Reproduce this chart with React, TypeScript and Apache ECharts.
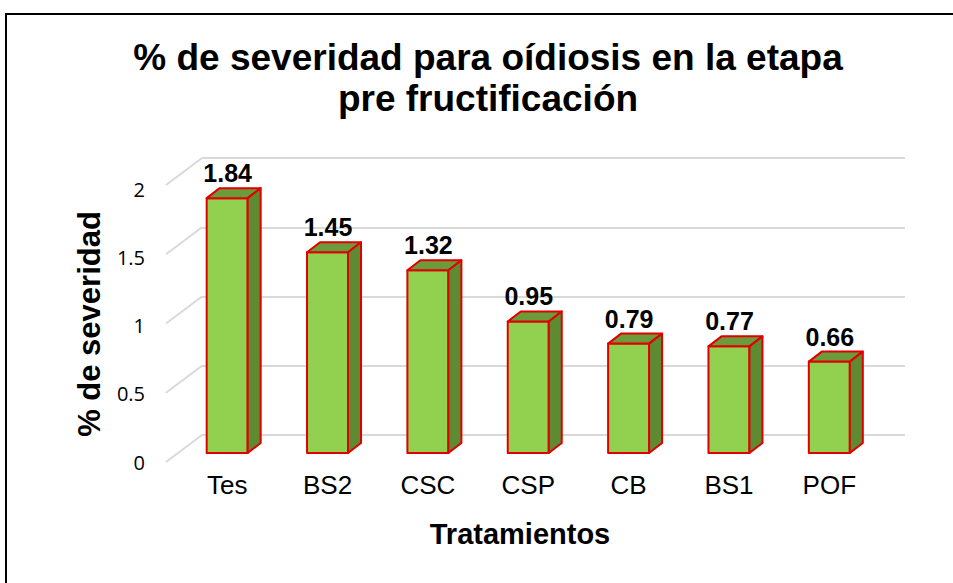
import React, { useEffect, useRef } from "react";
import * as echarts from "echarts";

const categories = ["Tes", "BS2", "CSC", "CSP", "CB", "BS1", "POF"];
const severity = [1.84, 1.45, 1.32, 0.95, 0.79, 0.77, 0.66];
const yTicks = [0, 0.5, 1, 1.5, 2];
const titleText = "% de severidad para oídiosis en la etapa\npre fructificación";
const yTitle = "% de severidad";
const xTitle = "Tratamientos";

export default function App() {
  const ref = useRef<HTMLDivElement>(null);
  useEffect(() => {
    if (!ref.current) return;
    const chart = echarts.init(ref.current, null, { renderer: "svg" });
    const barW = 41;
    const dx = 13;
    const dy = -10;
    const option: any = {
      animation: false,
      backgroundColor: "#fff",
      grid: [
        { left: 202, right: 48, top: 158, bottom: 148 },
        { left: 166, right: 48, top: 189, bottom: 121 },
        { left: 177, right: 73.5, top: 176, bottom: 130 },
      ],
      xAxis: [
        { gridIndex: 0, type: "value", min: 0, max: 1, show: false },
        { gridIndex: 1, type: "value", min: 0, max: 1, show: false },
        {
          gridIndex: 2,
          type: "category",
          data: categories,
          axisLine: { show: false },
          axisTick: { show: false },
          axisLabel: { margin: 19, fontSize: 26, fontFamily: "Liberation Sans", color: "#000" },
        },
      ],
      yAxis: [
        {
          gridIndex: 0,
          type: "value",
          min: 0,
          max: 2,
          interval: 0.5,
          axisLabel: { show: false },
          axisLine: { show: false },
          axisTick: { show: false },
          splitLine: { show: true, lineStyle: { color: "#d9d9d9", width: 2 } },
        },
        {
          gridIndex: 1,
          type: "value",
          min: 0,
          max: 2,
          interval: 0.5,
          axisLabel: { margin: 21, fontSize: 20, fontFamily: "Open Sans", color: "#000" },
          axisLine: { show: false },
          axisTick: { show: false },
          splitLine: { show: false },
        },
        { gridIndex: 2, type: "value", min: 0, max: 2, show: false },
      ],
      graphic: [
        {
          type: "line",
          silent: true,
          shape: { x1: 6, y1: 14, x2: 953, y2: 14 },
          style: { stroke: "#000", lineWidth: 2 },
        },
        {
          type: "line",
          silent: true,
          shape: { x1: 6, y1: 13, x2: 6, y2: 583 },
          style: { stroke: "#000", lineWidth: 2 },
        },
        {
          type: "text",
          x: 488,
          y: 37,
          style: {
            text: titleText,
            fontSize: 37,
            fontWeight: "bold",
            fontFamily: "Liberation Sans",
            lineHeight: 41,
            align: "center",
            verticalAlign: "top",
            fill: "#000",
          },
        },
        {
          type: "text",
          x: 89,
          y: 324,
          rotation: Math.PI / 2,
          style: {
            text: yTitle,
            fontSize: 31,
            fontWeight: "bold",
            fontFamily: "Liberation Sans",
            align: "center",
            verticalAlign: "middle",
            fill: "#000",
          },
        },
        {
          type: "text",
          x: 520,
          y: 534,
          style: {
            text: xTitle,
            fontSize: 29,
            fontWeight: "bold",
            fontFamily: "Liberation Sans",
            align: "center",
            verticalAlign: "middle",
            fill: "#000",
          },
        },
      ],
      series: [
        {
          type: "custom",
          xAxisIndex: 0,
          yAxisIndex: 0,
          silent: true,
          data: yTicks.map((v) => [0, v]),
          renderItem: (params: any, api: any) => {
            const p = api.coord([0, api.value(1)]);
            return {
              type: "line",
              shape: { x1: p[0], y1: p[1], x2: p[0] - 36, y2: p[1] + 27 },
              style: { stroke: "#d9d9d9", lineWidth: 2 },
            };
          },
        },
        {
          type: "custom",
          xAxisIndex: 2,
          yAxisIndex: 2,
          data: severity.map((v, i) => [i, v]),
          renderItem: (params: any, api: any) => {
            const idx = api.value(0);
            const val = api.value(1);
            const top = api.coord([idx, val]);
            const base = api.coord([idx, 0]);
            const cx = top[0];
            const x0 = cx - barW / 2;
            const x1 = cx + barW / 2;
            const yt = top[1];
            const yb = base[1];
            const edge = { stroke: "#e00000", lineWidth: 2, lineJoin: "round" };
            return {
              type: "group",
              children: [
                {
                  type: "rect",
                  shape: { x: x0, y: yt, width: barW, height: yb - yt },
                  style: { fill: "#92d050", ...edge },
                },
                {
                  type: "polygon",
                  shape: { points: [[x0, yt], [x0 + dx, yt + dy], [x1 + dx, yt + dy], [x1, yt]] },
                  style: { fill: "#6b9b3a", ...edge },
                },
                {
                  type: "polygon",
                  shape: { points: [[x1, yt], [x1 + dx, yt + dy], [x1 + dx, yb + dy], [x1, yb]] },
                  style: { fill: "#5e8a32", ...edge },
                },
                {
                  type: "text",
                  x: cx + 0.5,
                  y: yt - 25,
                  style: {
                    text: val.toFixed(2),
                    fontSize: 25,
                    fontWeight: "bold",
                    fontFamily: "Liberation Sans",
                    align: "center",
                    verticalAlign: "middle",
                    fill: "#000",
                  },
                },
              ],
            };
          },
        },
      ],
    };
    chart.setOption(option);
    return () => chart.dispose();
  }, []);
  return (
    <div
      ref={ref}
      style={{ position: "fixed", left: 0, top: 0, width: 953, height: 583, background: "#fff" }}
    />
  );
}
